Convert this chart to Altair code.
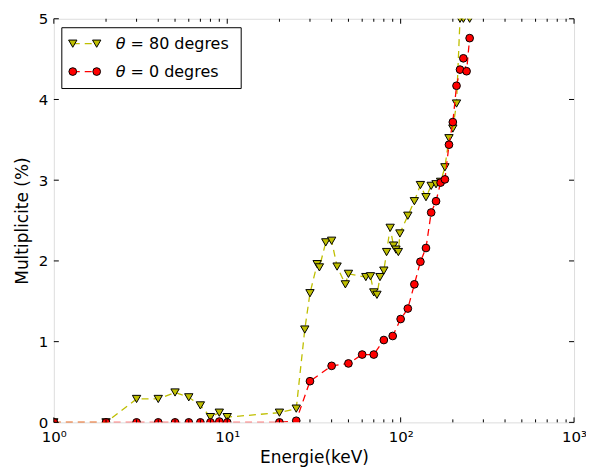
import altair as alt
import pandas as pd

# ---- data ----
E80 = [1, 2, 3, 4, 5, 6, 7, 8, 9, 10, 20, 25, 28, 30, 33, 34, 37, 40, 43, 48, 50,
       63, 67, 70, 73, 76, 80, 83, 87, 91, 94, 97, 99, 110, 120, 130, 140, 150,
       160, 170, 180, 190, 200, 210, 220, 230, 250]
M80 = [0, 0, 0.29, 0.29, 0.37, 0.31, 0.21, 0.065, 0.12, 0.065, 0.12, 0.17, 1.15, 1.60,
       1.96, 1.92, 2.23, 2.25, 1.93, 1.71, 1.84, 1.80, 1.81, 1.61, 1.58, 1.80, 1.88,
       2.11, 2.41, 2.19, 2.14, 2.11, 2.34, 2.56, 2.74, 2.94, 2.79, 2.93, 2.95, 2.98,
       3.16, 3.52, 3.64, 3.95, 5.0, 5.0, 5.0]
E0 = [1, 2, 3, 4, 5, 6, 7, 8, 9, 10, 20, 25, 30, 40, 50, 60, 70, 80, 90, 100, 110,
      120, 130, 140, 150, 160, 170, 180, 190, 200, 210, 220, 230, 240, 250]
M0 = [0, 0, 0, 0, 0, 0, 0, 0, 0.01, 0, 0, 0.02, 0.51, 0.70, 0.73, 0.84, 0.84, 1.02,
      1.07, 1.28, 1.41, 1.71, 1.99, 2.16, 2.60, 2.74, 2.97, 3.01, 3.44, 3.72, 4.17,
      4.37, 4.51, 4.35, 4.76]
LABEL80 = "= 80 degres"
LABEL0 = "= 0 degres"
X_MAJOR = [1, 10, 100, 1000]
X_MINOR = [2, 3, 4, 5, 6, 7, 8, 9, 20, 30, 40, 50, 60, 70, 80, 90,
           200, 300, 400, 500, 600, 700, 800, 900]
Y_TICKS = [0, 1, 2, 3, 4, 5]

W, H = 522, 405
FONT = "DejaVu Sans"
YEL = "#bfbf00"
RED = "#ff0000"
DASH = [7, 5]

xscale = alt.Scale(type="log", domain=[1, 1000], nice=False)
yscale = alt.Scale(domain=[0, 5], nice=False, zero=False)

df80 = pd.DataFrame({"E": E80, "M": M80})
df0 = pd.DataFrame({"E": E0, "M": M0})
one = pd.DataFrame({"k": [0]})

xaxis = alt.Axis(values=X_MAJOR,
                 labelExpr="'10' + ['\u2070','\u00b9','\u00b2','\u00b3'][round(log(datum.value)/LN10)]",
                 title="Energie(keV)", grid=False, ticks=False, domain=False,
                 labelPadding=7, titlePadding=5, labelFlush=False, labelOverlap=False,
                 labelFontSize=15, titleFontSize=17, labelFont=FONT, titleFont=FONT,
                 labelColor="black", titleColor="black", titleFontWeight="normal")
yaxis = alt.Axis(values=Y_TICKS, title="Multiplicite (%)", grid=False, ticks=False,
                 domain=False, labelPadding=6, titlePadding=7, labelFlush=False,
                 labelOverlap=False, labelFontSize=15, titleFontSize=17,
                 labelFont=FONT, titleFont=FONT, labelColor="black",
                 titleColor="black", titleFontWeight="normal")

X = alt.X("E:Q", scale=xscale, axis=xaxis)
Y = alt.Y("M:Q", scale=yscale, axis=yaxis)

line80 = alt.Chart(df80).mark_line(color=YEL, strokeDash=DASH, strokeWidth=1.3, clip=True).encode(
    x=X, y=Y)
pts80 = alt.Chart(df80).mark_point(shape="triangle-down", filled=True, fill=YEL, stroke="black",
                                   strokeWidth=1, size=70, opacity=1, clip=True).encode(x=X, y=Y)
line0 = alt.Chart(df0).mark_line(color=RED, strokeDash=DASH, strokeWidth=1.3, clip=True).encode(
    x=X, y=Y)
pts0 = alt.Chart(df0).mark_point(shape="circle", filled=True, fill=RED, stroke="black",
                                 strokeWidth=1, size=60, opacity=1, clip=True).encode(x=X, y=Y)

# inward tick marks on all four sides
def xticks(vals, length):
    d = pd.DataFrame({"E": vals})
    b = alt.Chart(d).mark_rule(color="black", strokeWidth=1).encode(
        x=X, y=alt.value(H), y2=alt.value(H - length))
    t = alt.Chart(d).mark_rule(color="black", strokeWidth=1).encode(
        x=X, y=alt.value(0), y2=alt.value(length))
    return [b, t]

dy = pd.DataFrame({"M": Y_TICKS})
yl = alt.Chart(dy).mark_rule(color="black", strokeWidth=1).encode(
    y=Y, x=alt.value(0), x2=alt.value(5))
yr = alt.Chart(dy).mark_rule(color="black", strokeWidth=1).encode(
    y=Y, x=alt.value(W), x2=alt.value(W - 5))

# legend
lb = alt.Chart(one).mark_rect(fill="white", stroke="black", strokeWidth=1).encode(
    x=alt.value(8), x2=alt.value(188), y=alt.value(9), y2=alt.value(70))
leg = [lb]
for (yy, col, shape, sz, lab) in [(25, YEL, "triangle-down", 70, LABEL80),
                                  (53, RED, "circle", 60, LABEL0)]:
    leg.append(alt.Chart(one).mark_rule(color=col, strokeDash=DASH, strokeWidth=1.3).encode(
        x=alt.value(19), x2=alt.value(43), y=alt.value(yy)))
    for xx in (19, 43):
        leg.append(alt.Chart(one).mark_point(shape=shape, filled=True, fill=col, stroke="black",
                                             strokeWidth=1, size=sz, opacity=1).encode(
            x=alt.value(xx), y=alt.value(yy)))
    leg.append(alt.Chart(one).mark_text(text="\u03b8", font=FONT, fontSize=16, fontStyle="italic",
                                        align="left", baseline="middle", color="black").encode(
        x=alt.value(62), y=alt.value(yy)))
    leg.append(alt.Chart(one).mark_text(text=lab, font=FONT, fontSize=16,
                                        align="left", baseline="middle", color="black").encode(
        x=alt.value(77), y=alt.value(yy)))

chart = alt.layer(line80, pts80, line0, pts0, *xticks(X_MAJOR, 5), *xticks(X_MINOR, 3),
                  yl, yr, *leg).properties(
    width=W, height=H,
    autosize=alt.AutoSizeParams(type="none"),
    padding={"left": 46, "top": 10, "right": 12, "bottom": 46},
).configure_view(stroke="#333333", strokeWidth=1.2).configure(background="white")

chart.save("out.html", embed_options={"renderer": "svg", "actions": False})
